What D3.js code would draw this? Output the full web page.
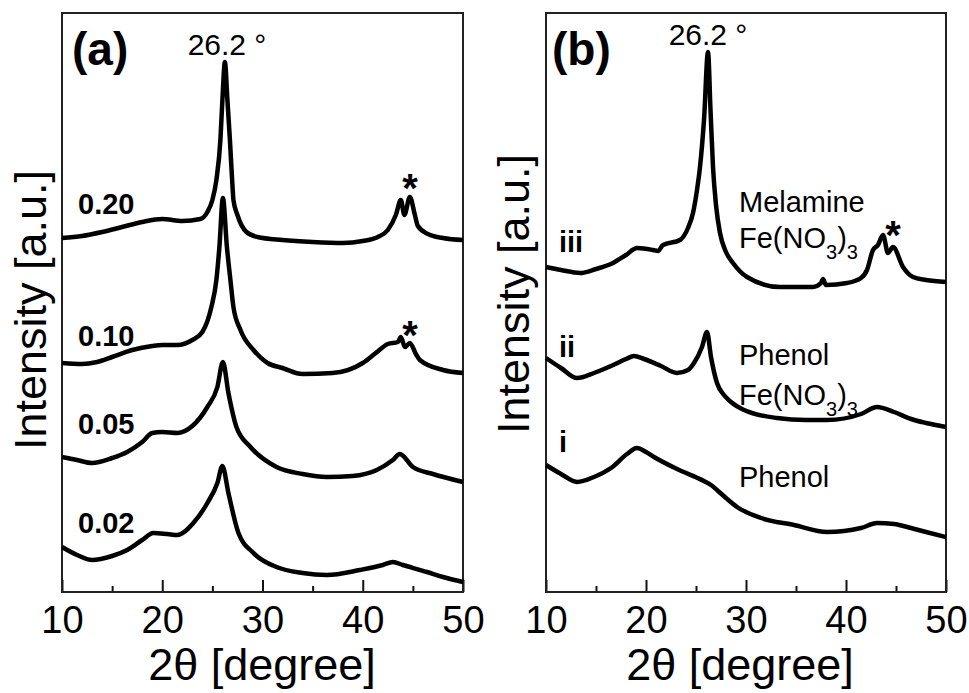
<!DOCTYPE html>
<html>
<head>
<meta charset="utf-8">
<script src="https://cdn.jsdelivr.net/npm/d3@7"></script>
<style>
  body { margin: 0; background: #fff; }
  svg { display: block; font-family: "Liberation Sans", Arial, sans-serif; }
  .curve { fill: none; stroke: #000; stroke-width: 4.5; stroke-linejoin: round; }
</style>
</head>
<body>
<script>
// XRD patterns: [2theta (deg), intensity (a.u.)]
const a020 = [[10,354],[12,356],[14,360],[16,365],[18,370],[20,373],[22,371],[23.8,373],[24.5,380],[25.0,392],
  [25.4,412],[25.8,452],[26.0,492],[26.25,530],[26.5,492],[26.75,452],[27.0,407],[27.1,392],[27.5,377],[28.4,360],
  [29.5,355],[32,352],[35,350],[38,349],[40,351],[41.5,355],[42.5,362],[43.3,377],[43.8,392],[44.15,377],[44.7,395],
  [45.2,377],[45.5,366],[46.5,358],[48,354],[50,352]];
const a010 = [[10,229],[12,228],[13.5,230],[15,235],[17,242],[19,246],[20,247],[21.5,247],[23,252],[24,260],
  [24.9,285],[25.4,312],[25.7,345],[26.05,394],[26.45,345],[26.8,312],[27.1,285],[27.8,262],[29.1,242],[30.5,229],
  [32,224],[34,218],[37,219],[40,229],[41.3,239],[42.5,248],[43.5,250],[43.8,255],[44.2,245],[44.7,249],[45.3,238],
  [45.7,232],[48,222],[50,219]];
const a005 = [[10,135],[11.5,132],[13,129],[15,134],[16.5,140],[18,150],[19,159],[20,160],[21.5,159],[23,166],
  [24.5,185],[25.5,205],[26.05,230],[26.6,199],[27.4,165],[28.8,145],[31.4,125],[34,118],[36.4,115],[39,116],
  [41.4,122],[43,132],[43.7,138],[45,125],[47,118],[50,110]];
const a002 = [[10,45],[11.5,37],[13,32],[15,36],[16.5,42],[18,52],[19.1,59],[20.5,58],[21.5,57],[23.1,69],
  [24.5,89],[25.5,109],[26.0,126],[26.6,99],[27.6,59],[29.1,39],[31.4,25],[34,19],[36.4,17],[39.7,22],[42,27],
  [43.0,30],[44,27],[46.4,20],[48,15],[50,10]];

const b3 = [[10,325],[11.5,322],[13.4,319],[15,323],[16.7,329],[18,337],[19.1,344],[20.7,342],[21.2,341],[21.7,347],
  [23.4,352],[24.2,364],[24.7,379],[25.1,402],[25.4,425],[25.8,472],[26.2,540],[26.45,482],[26.7,425],[27.0,387],
  [27.4,359],[28.0,340],[28.7,329],[30.1,315],[33.4,305],[36.7,305],[37.5,309],[37.7,313],[38,307],[40.1,309],
  [41.5,314],[42.1,322],[42.7,342],[43.2,347],[43.7,357],[44.2,339],[44.7,345],[45.7,325],[46.7,315],[48,312],[50,310]];
const b2 = [[10,234],[11.5,224],[13.1,214],[14.8,219],[16.5,226],[18,233],[18.8,236],[19.8,233],[21.5,226],[23.1,219],
  [24.2,222],[24.8,229],[25.6,245],[26.1,260],[26.5,235],[27.1,209],[27.8,197],[28.5,190],[29.8,182],[33.1,174],
  [36,172],[38.1,172],[41.5,178],[43.1,185],[44.8,180],[46.5,173],[48,169],[50,165]];
const b1 = [[10,127],[11.5,118],[13.1,110],[14.8,115],[16.5,124],[18.1,138],[19.1,144],[20,140],[20.8,135],[23.1,123],
  [25.8,111],[26.5,107],[27.1,102],[28,94],[29.1,85],[31.5,74],[34.8,67],[38.1,60],[41.5,64],[43.1,69],[44.8,68],
  [46.5,64],[48,60],[50,55]];

const majorTicks = [10, 20, 30, 40, 50];
const minorTicks = [15, 25, 35, 45];
const loadingLabels = ['0.20', '0.10', '0.05', '0.02'];
const sampleLabels = ['iii', 'ii', 'i'];

const svg = d3.select('body').append('svg')
  .attr('width', 969)
  .attr('height', 693);

const plotTop = 13, plotBottom = 592;
const y = d3.scaleLinear().domain([0, 580]).range([plotBottom, 12]);

function panel(left, right) {
  const x = d3.scaleLinear().domain([10, 50]).range([left, right]);
  const g = svg.append('g');

  g.append('g')
    .attr('transform', `translate(0,${plotBottom})`)
    .call(d3.axisBottom(x).tickValues(majorTicks).tickSize(-12).tickPadding(14).tickFormat(d3.format('d')))
    .call((a) => a.select('.domain').remove())
    .call((a) => a.selectAll('line').attr('stroke', '#111').attr('stroke-width', 2))
    .call((a) => a.selectAll('text').attr('font-size', 38).attr('fill', '#000')
      .attr('font-family', '"Liberation Sans", Arial, sans-serif'));

  g.append('g')
    .attr('transform', `translate(0,${plotBottom})`)
    .call(d3.axisBottom(x).tickValues(minorTicks).tickSize(-6).tickFormat(''))
    .call((a) => a.select('.domain').remove())
    .call((a) => a.selectAll('line').attr('stroke', '#111').attr('stroke-width', 2));

  g.append('rect')
    .attr('x', left).attr('y', plotTop)
    .attr('width', right - left).attr('height', plotBottom - plotTop)
    .attr('fill', 'none').attr('stroke', '#222').attr('stroke-width', 2);

  const line = d3.line()
    .x((d) => x(d[0]))
    .y((d) => y(d[1]))
    .curve(d3.curveMonotoneX);

  return { g, x, line };
}

const pa = panel(62, 463);
const pb = panel(546, 946);

// curves
[a020, a010, a005, a002].forEach((s) => {
  pa.g.append('path').attr('class', 'curve').attr('d', pa.line(s));
});
[b3, b2, b1].forEach((s) => {
  pb.g.append('path').attr('class', 'curve').attr('d', pb.line(s));
});

// axis titles
[262, 740].forEach((cx) => {
  svg.append('text')
    .attr('x', cx).attr('y', 680)
    .attr('text-anchor', 'middle')
    .attr('font-size', 45)
    .text('2θ [degree]');
});
[[46, 310], [529, 294]].forEach(([bx, cy]) => {
  svg.append('text')
    .attr('transform', `translate(${bx},${cy}) rotate(-90)`)
    .attr('text-anchor', 'middle')
    .attr('font-size', 45)
    .text('Intensity [a.u.]');
});

// panel letters
svg.append('text').attr('x', 72).attr('y', 65).attr('font-size', 46).attr('font-weight', 'bold').text('(a)');
svg.append('text').attr('x', 552).attr('y', 65).attr('font-size', 46).attr('font-weight', 'bold').text('(b)');

// peak position labels
svg.append('text').attr('x', 227).attr('y', 55).attr('text-anchor', 'middle').attr('font-size', 30).text('26.2 °');
svg.append('text').attr('x', 708).attr('y', 45).attr('text-anchor', 'middle').attr('font-size', 30).text('26.2 °');

// loading labels, panel (a)
const loadingY = [214, 346, 434, 533];
loadingLabels.forEach((t, i) => {
  svg.append('text').attr('x', 78).attr('y', loadingY[i])
    .attr('font-size', 29).attr('font-weight', 'bold').text(t);
});

// sample labels, panel (b)
const sampleY = [252, 357, 452];
sampleLabels.forEach((t, i) => {
  svg.append('text').attr('x', 559).attr('y', sampleY[i])
    .attr('font-size', 29).attr('font-weight', 'bold').text(t);
});

// asterisks on the Fe peaks
[[410, 202], [410, 349], [893, 249]].forEach(([ax, ay]) => {
  svg.append('text').attr('x', ax).attr('y', ay).attr('text-anchor', 'middle')
    .attr('font-size', 40).attr('font-weight', 'bold').text('*');
});

// precursor names, panel (b)
function feNitrate(xp, yp) {
  const t = svg.append('text').attr('x', xp).attr('y', yp).attr('font-size', 29);
  t.append('tspan').text('Fe(NO');
  t.append('tspan').attr('font-size', 20).attr('dy', 11).text('3');
  t.append('tspan').attr('dy', -11).text(')');
  t.append('tspan').attr('font-size', 20).attr('dy', 11).text('3');
}
svg.append('text').attr('x', 739).attr('y', 212).attr('font-size', 29).text('Melamine');
feNitrate(739, 248);
svg.append('text').attr('x', 739).attr('y', 365).attr('font-size', 29).text('Phenol');
feNitrate(739, 405);
svg.append('text').attr('x', 739).attr('y', 487).attr('font-size', 29).text('Phenol');
</script>
</body>
</html>
